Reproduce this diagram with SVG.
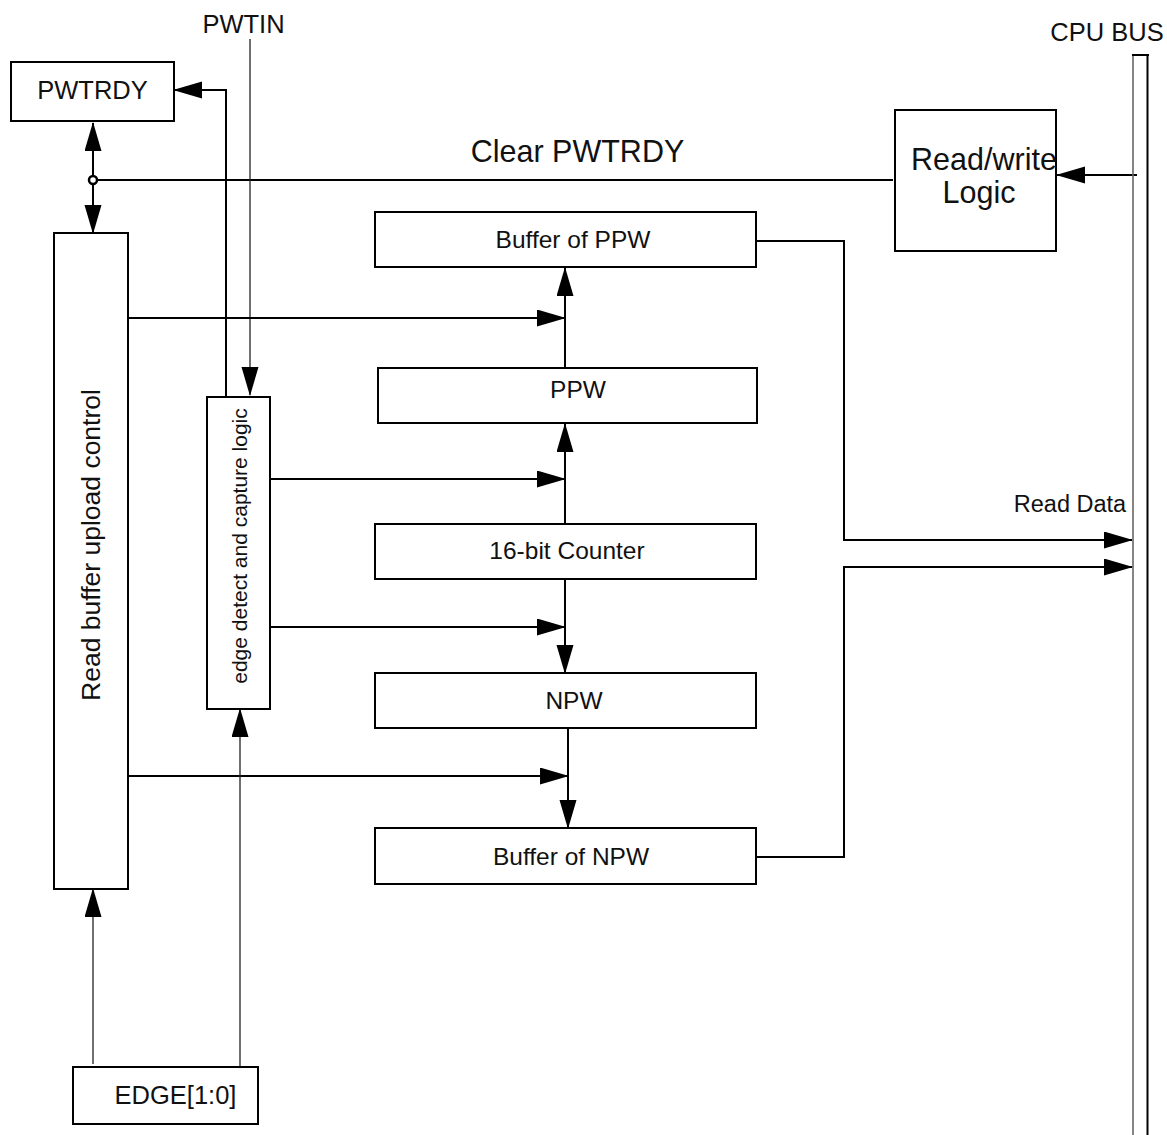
<svg xmlns="http://www.w3.org/2000/svg" width="1167" height="1135" viewBox="0 0 1167 1135">
<defs>
<style>
.box{fill:#fff;stroke:#000;stroke-width:2}
.lbl{font-family:"Liberation Sans",Arial,sans-serif;fill:#111;text-anchor:middle}
.w{fill:none;stroke:#000;stroke-width:2}
.thin{fill:none;stroke:#222;stroke-width:1.3}
.arr{marker-end:url(#ah)}
</style>
<marker id="ah" markerUnits="userSpaceOnUse" markerWidth="30" markerHeight="18" refX="28" refY="8.5" orient="auto-start-reverse">
<path d="M0,0 L29,8.5 L0,17 z" fill="#000"/>
</marker>
</defs>
<rect width="1167" height="1135" fill="#fff"/>

<g id="connectors">
<line class="w" x1="93" y1="153" x2="93" y2="123" marker-end="url(#ah)"/>
<line class="w" x1="93" y1="205" x2="93" y2="233" marker-end="url(#ah)"/>
<line class="w" x1="93" y1="153" x2="93" y2="205"/>
<line class="w" x1="93" y1="180" x2="893" y2="180"/>
<circle cx="93" cy="180" r="4" fill="#fff" stroke="#000" stroke-width="2.5"/>
<line class="w arr" x1="1137" y1="175" x2="1057" y2="175"/>
<path class="w arr" d="M226,397 V90 H174"/>
<line class="thin arr" x1="250" y1="39" x2="250" y2="395"/>
<line class="w arr" x1="128" y1="318" x2="565" y2="318"/>
<line class="w arr" x1="565" y1="368" x2="565" y2="268"/>
<line class="w arr" x1="270" y1="479" x2="565" y2="479"/>
<line class="w arr" x1="565" y1="524" x2="565" y2="424"/>
<line class="w arr" x1="270" y1="627" x2="565" y2="627"/>
<line class="w arr" x1="565" y1="579" x2="565" y2="673"/>
<line class="w arr" x1="128" y1="776" x2="568" y2="776"/>
<line class="w arr" x1="568" y1="728" x2="568" y2="828"/>
<path class="w arr" d="M756,241 H844 V540 H1132"/>
<path class="w arr" d="M756,857 H844 V567 H1132"/>
<line class="thin arr" x1="93" y1="1064" x2="93" y2="889"/>
<line class="thin arr" x1="240" y1="1067" x2="240" y2="709"/>
</g>

<g id="cpu-bus">
<line x1="1133" y1="55" x2="1133" y2="1135" stroke="#666" stroke-width="1.6"/>
<line x1="1147.5" y1="55" x2="1147.5" y2="1135" stroke="#000" stroke-width="2"/>
<line x1="1132" y1="55" x2="1149" y2="55" stroke="#000" stroke-width="2"/>
<text class="lbl" x="1107" y="41" font-size="25.5">CPU BUS</text>
<text class="lbl" x="1070" y="512" font-size="23.5">Read Data</text>
</g>

<g id="pwtin-label">
<text class="lbl" x="243.5" y="33" font-size="25.5">PWTIN</text>
</g>

<g id="clear-label">
<text class="lbl" x="577.5" y="162" font-size="30.5">Clear PWTRDY</text>
</g>

<g id="pwtrdy">
<rect class="box" x="11" y="62" width="163" height="59"/>
<text class="lbl" x="92.5" y="99" font-size="25.5">PWTRDY</text>
</g>

<g id="rw-logic">
<rect class="box" x="895" y="110" width="161" height="141"/>
<text class="lbl" x="984" y="170" font-size="30.5">Read/write</text>
<text class="lbl" x="979" y="203" font-size="30.5">Logic</text>
</g>

<g id="read-buffer-ctrl">
<rect class="box" x="54" y="233" width="74" height="656"/>
<text class="lbl" font-size="26.5" transform="translate(100,545) rotate(-90)">Read buffer upload control</text>
</g>

<g id="edge-detect">
<rect class="box" x="207" y="397" width="63" height="312"/>
<text class="lbl" font-size="21" transform="translate(247,546) rotate(-90)">edge detect and capture logic</text>
</g>

<g id="buffer-ppw">
<rect class="box" x="375" y="212" width="381" height="55"/>
<text class="lbl" x="573" y="248" font-size="24.5">Buffer of PPW</text>
</g>

<g id="ppw">
<rect class="box" x="378" y="368" width="379" height="55"/>
<text class="lbl" x="578" y="398" font-size="24.5">PPW</text>
</g>

<g id="counter">
<rect class="box" x="375" y="524" width="381" height="55"/>
<text class="lbl" x="567" y="559" font-size="24.5">16-bit Counter</text>
</g>

<g id="npw">
<rect class="box" x="375" y="673" width="381" height="55"/>
<text class="lbl" x="574" y="709" font-size="24.5">NPW</text>
</g>

<g id="buffer-npw">
<rect class="box" x="375" y="828" width="381" height="56"/>
<text class="lbl" x="571" y="865" font-size="24.5">Buffer of NPW</text>
</g>

<g id="edge-input">
<rect class="box" x="73" y="1067" width="185" height="57"/>
<text class="lbl" x="175.5" y="1104" font-size="25.5">EDGE[1:0]</text>
</g>
</svg>
